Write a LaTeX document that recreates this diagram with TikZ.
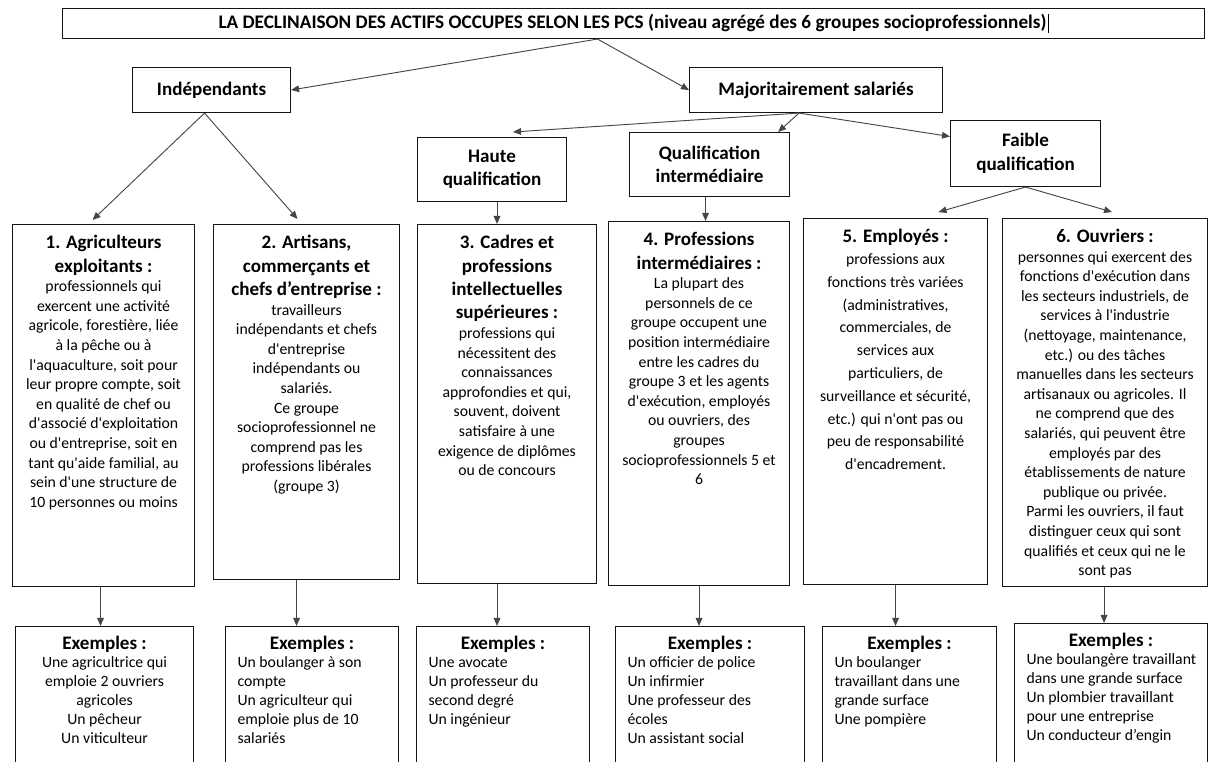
\documentclass[tikz,border=0pt]{standalone}
\usepackage{fontspec}
\setmainfont{Carlito}
\usetikzlibrary{arrows.meta}
\newlength{\px}
\setlength{\px}{0.75pt}
\definecolor{boxline}{RGB}{20,20,20}
\definecolor{linkgray}{RGB}{70,70,70}
\newcommand{\ap}{\textquotesingle}
\newcommand{\titlefont}{\fontsize{14.4}{16}\selectfont\bfseries}
\newcommand{\headfont}{\fontsize{14.3}{17.6}\selectfont\bfseries}
\newcommand{\bodyfont}{\fontsize{11.8}{14.7}\selectfont}
\newcommand{\exfont}{\fontsize{11.8}{14.3}\selectfont}
\newcommand{\leftpad}{\raggedright\setlength{\leftskip}{9pt}}
\newcommand{\groupbox}[4]{\parbox[c][#2\px][t]{#1\px}{\centering\vspace*{8pt}{\headfont #3\par}\bodyfont #4\par}}
\newcommand{\examplebox}[4]{\parbox[c][#2\px][t]{#1\px}{\vspace*{7pt}{\centering\headfont Exemples :\par}\vspace{-0.5pt}\exfont #3 #4\par}}
\tikzset{
    catbox/.style={rectangle, draw=boxline, line width=0.8pt, inner sep=0pt, anchor=north west, align=center, font=\headfont},
    textbox/.style={rectangle, draw=boxline, line width=0.8pt, inner sep=0pt, anchor=north west},
    link/.style={-{Triangle[length=6pt, width=5pt]}, linkgray, line width=0.7pt}
}
\begin{document}
\begin{tikzpicture}[x=\px, y=-\px]
            \useasboundingbox (0,0) rectangle (1208,762);
            \clip (0,0) rectangle (1208,762);
            \node (pcs) [catbox, minimum width=1142\px, minimum height=30\px, font=\titlefont] at (62,8) {LA DECLINAISON DES ACTIFS OCCUPES SELON LES PCS (niveau agrégé des 6 groupes socioprofessionnels)\hspace{1pt}\rule[-3pt]{0.6pt}{14pt}};
            \node (indep) [catbox, minimum width=158\px, minimum height=45\px] at (132,67) {Indépendants};
            \node (salar) [catbox, minimum width=253\px, minimum height=45\px] at (689,67) {Majoritairement salariés};
            \node (haute) [catbox, minimum width=149\px, minimum height=64\px] at (417,137) {Haute\\qualification};
            \node (inter) [catbox, minimum width=160\px, minimum height=64\px] at (629,132) {Qualification\\intermédiaire};
            \node (faible) [catbox, minimum width=150\px, minimum height=66\px] at (950,120) {Faible\\qualification};

            \node (g1) [textbox] at (12,224) {\groupbox{182}{362}{1. Agriculteurs\\exploitants :}{professionnels qui\\exercent une activité\\agricole, forestière, liée\\à la pêche ou à\\l\ap aquaculture, soit pour\\leur propre compte, soit\\en qualité de chef ou\\d\ap associé d\ap exploitation\\ou d\ap entreprise, soit en\\tant qu\ap aide familial, au\\sein d\ap une structure de\\10 personnes ou moins}};
            \node (g2) [textbox] at (213,224) {\groupbox{186}{355}{2. Artisans,\\commerçants et\\chefs d’entreprise :}{travailleurs\\indépendants et chefs\\d\ap entreprise\\indépendants ou\\salariés.\\Ce groupe\\socioprofessionnel ne\\comprend pas les\\professions libérales\\(groupe 3)}};
            \node (g3) [textbox] at (417,224) {\groupbox{179}{359}{3. Cadres et\\professions\\intellectuelles\\supérieures :}{professions qui\\nécessitent des\\connaissances\\approfondies et qui,\\souvent, doivent\\satisfaire à une\\exigence de diplômes\\ou de concours}};
            \node (g4) [textbox] at (608,221) {\groupbox{181}{364}{4. Professions\\intermédiaires :}{La plupart des\\personnels de ce\\groupe occupent une\\position intermédiaire\\entre les cadres du\\groupe 3 et les agents\\d\ap exécution, employés\\ou ouvriers, des\\groupes\\socioprofessionnels 5 et\\6}};
            \node (g5) [textbox] at (803,218) {\groupbox{184}{366}{5. Employés :}{\vspace{-0.6pt}\fontsize{11.8}{17.1}\selectfont professions aux\\fonctions très variées\\(administratives,\\commerciales, de\\services aux\\particuliers, de\\surveillance et sécurité,\\etc.) qui n\ap ont pas ou\\peu de responsabilité\\d\ap encadrement.}};
            \node (g6) [textbox] at (1002,218) {\groupbox{205}{368}{6. Ouvriers :}{personnes qui exercent des\\fonctions d\ap exécution dans\\les secteurs industriels, de\\services à l\ap industrie\\(nettoyage, maintenance,\\etc.) ou des tâches\\manuelles dans les secteurs\\artisanaux ou agricoles. Il\\ne comprend que des\\salariés, qui peuvent être\\employés par des\\établissements de nature\\publique ou privée.\\Parmi les ouvriers, il faut\\distinguer ceux qui sont\\qualifiés et ceux qui ne le\\sont pas}};

            \node (ex1) [textbox] at (15,626) {\examplebox{178}{160}{\centering}{Une agricultrice qui\\emploie 2 ouvriers\\agricoles\\Un pêcheur\\Un viticulteur}};
            \node (ex2) [textbox] at (225,626) {\examplebox{173}{160}{\leftpad}{Un boulanger à son\\compte\\Un agriculteur qui\\emploie plus de 10\\salariés}};
            \node (ex3) [textbox] at (416,626) {\examplebox{173}{160}{\leftpad}{Une avocate\\Un professeur du\\second degré\\Un ingénieur}};
            \node (ex4) [textbox] at (615,626) {\examplebox{189}{160}{\leftpad}{Un officier de police\\Un infirmier\\Une professeur des\\écoles\\Un assistant social}};
            \node (ex5) [textbox] at (822,626) {\examplebox{174}{160}{\leftpad}{Un boulanger\\travaillant dans une\\grande surface\\Une pompière}};
            \node (ex6) [textbox] at (1014,623) {\examplebox{193}{160}{\leftpad}{Une boulangère travaillant\\dans une grande surface\\Un plombier travaillant\\pour une entreprise\\Un conducteur d’engin}};

            \draw [link] ([xshift=-36\px]pcs.south) -- (indep.east);
            \draw [link] ([xshift=-36\px]pcs.south) -- (salar.west);
            \draw [link] ([xshift=-17\px]salar.south) -- ([xshift=21\px, yshift=5\px]haute.north);
            \draw [link] ([xshift=-17\px]salar.south) -- ([xshift=-12\px]inter.north east);
            \draw [link] ([xshift=-17\px]salar.south) -- ([yshift=17\px]faible.west);
            \draw [link] ([xshift=-7\px]indep.south) -- ([xshift=-11\px, yshift=4\px]g1.north);
            \draw [link] ([xshift=-7\px]indep.south) -- ([xshift=-9\px, yshift=5\px]g2.north);
            \draw [link] ([xshift=5\px]haute.south) -- ([xshift=5\px]haute.south |- g3.north);
            \draw [link] ([xshift=-4\px]inter.south) -- ([xshift=-4\px]inter.south |- g4.north);
            \draw [link] (faible.south) -- ([xshift=43\px, yshift=6\px]g5.north);
            \draw [link] (faible.south) -- ([xshift=7\px, yshift=6\px]g6.north);
            \foreach \a/\b/\s in {g1/ex1/-3, g2/ex2/-10, g3/ex3/-10, g4/ex4/0, g5/ex5/0, g6/ex6/-1}
                \draw [link] ([xshift=\s\px]\a.south) -- ([xshift=\s\px]\a.south |- \b.north);
        \end{tikzpicture}
\end{document}
